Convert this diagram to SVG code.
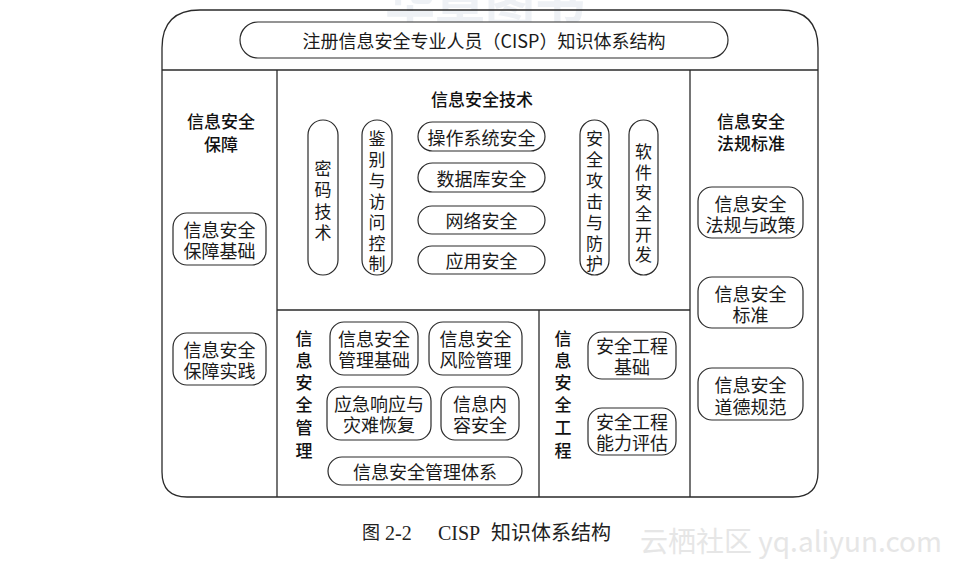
<svg xmlns="http://www.w3.org/2000/svg" width="966" height="567" viewBox="0 0 966 567">
<style>
.frame{fill:none;stroke:#2a2a2a;stroke-width:1.3}
.box{fill:#fff;stroke:#2a2a2a;stroke-width:1.2}
.t{font-family:"Noto Sans CJK SC","Noto Sans",sans-serif;font-size:18px;fill:#1a1a1a;text-anchor:middle;dominant-baseline:central}
.v{font-family:"Noto Sans CJK SC","Noto Sans",sans-serif;font-size:17px;fill:#1a1a1a;text-anchor:middle;dominant-baseline:central}
.h{font-family:"Noto Sans CJK SC","Noto Sans",sans-serif;font-size:17px;font-weight:500;fill:#111;text-anchor:middle;dominant-baseline:central}
.cap{font-family:"Liberation Serif","Noto Sans CJK SC",serif;font-size:20px;fill:#222;dominant-baseline:central}
</style>
<rect width="966" height="567" fill="#fff"/>
<text x="485" y="22" style="font-family:'Noto Sans CJK SC',sans-serif;font-size:50px;font-weight:bold;fill:#eef1f5;text-anchor:middle">华章图书</text>
<g id="frame">
<path class="frame" d="M200 10 H780 Q818 10 818 48 V472 Q818 497 793 497 H187 Q162 497 162 472 V48 Q162 10 200 10 Z"/>
<line class="frame" x1="162" y1="70" x2="818" y2="70"/>
<line class="frame" x1="277" y1="70" x2="277" y2="497"/>
<line class="frame" x1="690" y1="70" x2="690" y2="497"/>
<line class="frame" x1="277" y1="310" x2="690" y2="310"/>
<line class="frame" x1="539" y1="310" x2="539" y2="497"/>
</g>
<g id="title"><rect class="box" x="240" y="22" width="488" height="36" rx="18"/><text class="t" x="484" y="40">注册信息安全专业人员（CISP）知识体系结构</text></g>

<g id="assurance"><text class="h" x="221" y="120">信息安全</text><text class="h" x="221" y="143">保障</text></g>
<g id="assurance-basis"><rect class="box" x="173" y="213" width="93" height="52" rx="14"/><text class="t" x="219.5" y="228.5">信息安全</text><text class="t" x="219.5" y="250">保障基础</text></g>
<g id="assurance-practice"><rect class="box" x="173" y="333" width="93" height="52" rx="14"/><text class="t" x="219.5" y="348.5">信息安全</text><text class="t" x="219.5" y="370">保障实践</text></g>

<g id="tech"><text class="h" x="482" y="98">信息安全技术</text></g>
<g id="crypto"><rect class="box" x="308" y="120" width="30" height="155" rx="15"/><text class="v"><tspan x="323" y="167">密</tspan><tspan x="323" y="188">码</tspan><tspan x="323" y="210">技</tspan><tspan x="323" y="231">术</tspan></text></g>
<g id="auth"><rect class="box" x="362" y="120" width="30" height="155" rx="15"/><text class="v"><tspan x="377" y="137">鉴</tspan><tspan x="377" y="158">别</tspan><tspan x="377" y="179">与</tspan><tspan x="377" y="200">访</tspan><tspan x="377" y="221">问</tspan><tspan x="377" y="242">控</tspan><tspan x="377" y="262">制</tspan></text></g>
<g id="os"><rect class="box" x="418" y="122" width="127" height="29" rx="14.5"/><text class="t" x="481.5" y="136.5">操作系统安全</text></g>
<g id="db"><rect class="box" x="418" y="163" width="127" height="29" rx="14.5"/><text class="t" x="481.5" y="177.5">数据库安全</text></g>
<g id="net"><rect class="box" x="418" y="206" width="127" height="28" rx="14"/><text class="t" x="481.5" y="220">网络安全</text></g>
<g id="app"><rect class="box" x="418" y="246" width="127" height="28" rx="14"/><text class="t" x="481.5" y="260">应用安全</text></g>
<g id="attack"><rect class="box" x="580" y="120" width="29" height="155" rx="14.5"/><text class="v"><tspan x="594.5" y="137">安</tspan><tspan x="594.5" y="158">全</tspan><tspan x="594.5" y="179">攻</tspan><tspan x="594.5" y="200">击</tspan><tspan x="594.5" y="221">与</tspan><tspan x="594.5" y="242">防</tspan><tspan x="594.5" y="262">护</tspan></text></g>
<g id="softdev"><rect class="box" x="629" y="120" width="29" height="155" rx="14.5"/><text class="v"><tspan x="643.5" y="150">软</tspan><tspan x="643.5" y="171">件</tspan><tspan x="643.5" y="191">安</tspan><tspan x="643.5" y="212">全</tspan><tspan x="643.5" y="233">开</tspan><tspan x="643.5" y="253">发</tspan></text></g>

<g id="mgmt"><text class="h"><tspan x="304" y="337">信</tspan><tspan x="304" y="359">息</tspan><tspan x="304" y="381">安</tspan><tspan x="304" y="403">全</tspan><tspan x="304" y="426">管</tspan><tspan x="304" y="449">理</tspan></text></g>
<g id="mgmt-basis"><rect class="box" x="330" y="322" width="88" height="53" rx="14"/><text class="t" x="374" y="338">信息安全</text><text class="t" x="374" y="359">管理基础</text></g>
<g id="risk"><rect class="box" x="429" y="322" width="93" height="53" rx="14"/><text class="t" x="475.5" y="338">信息安全</text><text class="t" x="475.5" y="359">风险管理</text></g>
<g id="emergency"><rect class="box" x="327" y="387" width="104" height="53" rx="14"/><text class="t" x="379" y="403">应急响应与</text><text class="t" x="379" y="424">灾难恢复</text></g>
<g id="content"><rect class="box" x="441" y="387" width="78" height="53" rx="14"/><text class="t" x="480" y="403">信息内</text><text class="t" x="480" y="424">容安全</text></g>
<g id="isms"><rect class="box" x="328" y="457" width="194" height="28" rx="14"/><text class="t" x="425" y="471">信息安全管理体系</text></g>

<g id="eng"><text class="h"><tspan x="563" y="337">信</tspan><tspan x="563" y="359">息</tspan><tspan x="563" y="381">安</tspan><tspan x="563" y="403">全</tspan><tspan x="563" y="426">工</tspan><tspan x="563" y="449">程</tspan></text></g>
<g id="eng-basis"><rect class="box" x="588" y="332" width="88" height="47" rx="14"/><text class="t" x="632" y="345">安全工程</text><text class="t" x="632" y="366">基础</text></g>
<g id="eng-eval"><rect class="box" x="588" y="408" width="88" height="47" rx="14"/><text class="t" x="632" y="421">安全工程</text><text class="t" x="632" y="442">能力评估</text></g>

<g id="law"><text class="h" x="751" y="120">信息安全</text><text class="h" x="751" y="142">法规标准</text></g>
<g id="law-policy"><rect class="box" x="698" y="187" width="105" height="51" rx="14"/><text class="t" x="750.5" y="202.5">信息安全</text><text class="t" x="750.5" y="224">法规与政策</text></g>
<g id="standard"><rect class="box" x="698" y="277" width="105" height="51" rx="14"/><text class="t" x="750.5" y="292.5">信息安全</text><text class="t" x="750.5" y="314">标准</text></g>
<g id="ethics"><rect class="box" x="698" y="368" width="105" height="52" rx="14"/><text class="t" x="750.5" y="384">信息安全</text><text class="t" x="750.5" y="406">道德规范</text></g>

<g id="caption"><text class="cap"><tspan x="362" y="533" style="font-size:18px">图</tspan><tspan x="385" y="533">2-2</tspan><tspan x="438" y="533">CISP</tspan><tspan x="491" y="533">知识体系结构</tspan></text></g>
<text x="640" y="540" style="font-family:'Noto Sans CJK SC','Liberation Sans',sans-serif;font-size:28px;fill:#e6e6e6;dominant-baseline:central">云栖社区 yq.aliyun.com</text>
</svg>
